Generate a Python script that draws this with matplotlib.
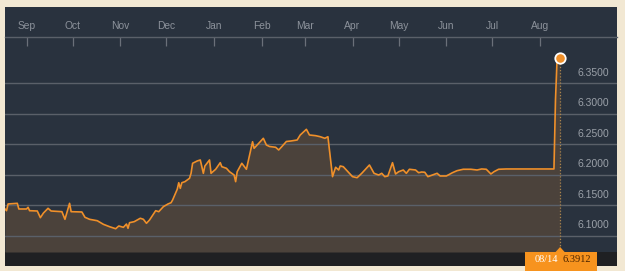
import matplotlib
matplotlib.use('Agg')
import matplotlib.pyplot as plt
import matplotlib.dates as mdates
from matplotlib.patches import Rectangle, Polygon
import pandas as pd

# USD/CNY, un año hasta el 14/08/2015
fechas = [
    '2014-08-18', '2014-08-19', '2014-08-20', '2014-08-26', '2014-08-27', '2014-09-01',
    '2014-09-02', '2014-09-03', '2014-09-08', '2014-09-10', '2014-09-12', '2014-09-15',
    '2014-09-17', '2014-09-24', '2014-09-26', '2014-09-29', '2014-09-30', '2014-10-07',
    '2014-10-09', '2014-10-12', '2014-10-17', '2014-10-21', '2014-10-25', '2014-10-29',
    '2014-10-31', '2014-11-03', '2014-11-05', '2014-11-06', '2014-11-07', '2014-11-10',
    '2014-11-14', '2014-11-16', '2014-11-18', '2014-11-20', '2014-11-24', '2014-11-26',
    '2014-11-29', '2014-12-02', '2014-12-04', '2014-12-05', '2014-12-08', '2014-12-09',
    '2014-12-10', '2014-12-11', '2014-12-13', '2014-12-16', '2014-12-17', '2014-12-18',
    '2014-12-21', '2014-12-23', '2014-12-25', '2014-12-26', '2014-12-29', '2014-12-30',
    '2015-01-02', '2015-01-05', '2015-01-06', '2015-01-09', '2015-01-11', '2015-01-14',
    '2015-01-15', '2015-01-16', '2015-01-19', '2015-01-22', '2015-01-26', '2015-01-27',
    '2015-01-30', '2015-02-02', '2015-02-04', '2015-02-06', '2015-02-10', '2015-02-12',
    '2015-02-14', '2015-02-17', '2015-02-20', '2015-02-24', '2015-02-26', '2015-03-01',
    '2015-03-02', '2015-03-04', '2015-03-08', '2015-03-11', '2015-03-14', '2015-03-16',
    '2015-03-17', '2015-03-19', '2015-03-21', '2015-03-23', '2015-03-24', '2015-03-26',
    '2015-03-28', '2015-04-01', '2015-04-04', '2015-04-07', '2015-04-12', '2015-04-15',
    '2015-04-18', '2015-04-20', '2015-04-22', '2015-04-24', '2015-04-27', '2015-04-29',
    '2015-05-01', '2015-05-04', '2015-05-06', '2015-05-08', '2015-05-12', '2015-05-14',
    '2015-05-16', '2015-05-18', '2015-05-20', '2015-05-23', '2015-05-26', '2015-05-28',
    '2015-06-01', '2015-06-05', '2015-06-08', '2015-06-12', '2015-06-17', '2015-06-21',
    '2015-06-24', '2015-06-27', '2015-06-30', '2015-07-02', '2015-07-05', '2015-07-10',
    '2015-07-28', '2015-08-10', '2015-08-11', '2015-08-12', '2015-08-13', '2015-08-14',
]
valores = [
    6.1442, 6.1414, 6.1524, 6.1535, 6.1442, 6.1442,
    6.1470, 6.1414, 6.1409, 6.1300, 6.1376, 6.1453,
    6.1409, 6.1398, 6.1273, 6.1535, 6.1398, 6.1393,
    6.1306, 6.1273, 6.1250, 6.1191, 6.1152, 6.1119,
    6.1164, 6.1142, 6.1196, 6.1126, 6.1218, 6.1234,
    6.1290, 6.1273, 6.1208, 6.1262, 6.1414, 6.1398,
    6.1480, 6.1524, 6.1545, 6.1589, 6.1764, 6.1872,
    6.1780, 6.1872, 6.1889, 6.1944, 6.2026, 6.2190,
    6.2228, 6.2244, 6.2026, 6.2146, 6.2244, 6.2026,
    6.2092, 6.2200, 6.2134, 6.2108, 6.2052, 6.1998,
    6.1889, 6.2052, 6.2190, 6.2092, 6.2543, 6.2435,
    6.2517, 6.2599, 6.2489, 6.2465, 6.2452, 6.2408,
    6.2462, 6.2547, 6.2555, 6.2571, 6.2653, 6.2723,
    6.2746, 6.2653, 6.2642, 6.2625, 6.2599, 6.2625,
    6.2408, 6.1971, 6.2125, 6.2080, 6.2146, 6.2134,
    6.2080, 6.1971, 6.1954, 6.2026, 6.2162, 6.2026,
    6.1998, 6.2026, 6.1971, 6.1982, 6.2200, 6.2015,
    6.2052, 6.2080, 6.2026, 6.2092, 6.2080, 6.2036,
    6.2047, 6.2043, 6.1971, 6.1998, 6.2026, 6.1982,
    6.1982, 6.2036, 6.2069, 6.2092, 6.2092, 6.2080,
    6.2097, 6.2092, 6.2015, 6.2052, 6.2092, 6.2097,
    6.2097, 6.2097, 6.3231, 6.3870, 6.3966, 6.3912,
]

meses = ['2014-09-01', '2014-10-01', '2014-11-01', '2014-12-01', '2015-01-01', '2015-02-01',
         '2015-03-01', '2015-04-01', '2015-05-01', '2015-06-01', '2015-07-01', '2015-08-01']
etiquetas_meses = ['Sep', 'Oct', 'Nov', 'Dec', 'Jan', 'Feb', 'Mar', 'Apr', 'May', 'Jun', 'Jul', 'Aug']
niveles = [6.10, 6.15, 6.20, 6.25, 6.30, 6.35]
etiquetas_niveles = ['6.1000', '6.1500', '6.2000', '6.2500', '6.3000', '6.3500']
etiqueta_fecha = '08/14'
etiqueta_valor = '6.3912'

W, H = 625, 271
fondo = '#f2e8d3'
panel = '#29323e'
relleno = '#4b423b'
naranja = '#f0902a'
gris = '#5a6069'

t = pd.to_datetime(fechas)
x = mdates.date2num(t)

fig = plt.figure(figsize=(W / 100, H / 100), dpi=100, facecolor=fondo)

# panel oscuro y franja inferior
fig.patches.append(Rectangle((5 / W, 1 - 266 / H), 612 / W, 259 / H,
                             transform=fig.transFigure, facecolor=panel, zorder=-2))
fig.patches.append(Rectangle((5 / W, 1 - 266 / H), 612 / W, 14 / H,
                             transform=fig.transFigure, facecolor='#1f2023', zorder=-1))

ax = fig.add_axes([5 / W, 1 - 252 / H, 612 / W, 215 / H])
ax.set_facecolor('none')
ax.set_xlim(mdates.date2num(pd.Timestamp('2014-08-18')), mdates.date2num(pd.Timestamp('2015-09-20')))
ax.set_ylim(6.0738, 6.4257)

ax.fill_between(x, valores, 6.0738, color=relleno, lw=0, zorder=1)
for n in niveles:
    ax.axhline(n, color=gris, lw=1.0, zorder=2)
ax.plot(x, valores, color=naranja, lw=1.2, zorder=3)

# linea punteada y marcador del ultimo valor
ax.axvline(x[-1], ymin=0, ymax=(valores[-1] - 6.0738) / (6.4257 - 6.0738),
           color='#a8844e', lw=0.9, ls=(0, (1, 1.5)), zorder=2)
ax.plot(x[-1], valores[-1], 'o', ms=7.5, color=naranja, mec='white', mew=1.3, zorder=4)

# eje x arriba
for s in ['left', 'right', 'bottom']:
    ax.spines[s].set_visible(False)
ax.spines['top'].set_color(gris)
ax.spines['top'].set_linewidth(1.0)
ax.xaxis.tick_top()
ax.set_xticks(mdates.date2num(pd.to_datetime(meses)))
ax.set_xticklabels(etiquetas_meses)
ax.tick_params(axis='x', direction='in', length=6.5, width=0.9, color='#6a7079',
               labelsize=7.4, labelcolor='#8c929b', pad=4)
for lab in ax.get_xticklabels():
    lab.set_family('Liberation Sans')
ax.set_yticks([])

# etiquetas del eje y, sobre cada linea
for n, e in zip(niveles, etiquetas_niveles):
    ax.annotate(e, xy=(0.9355, n), xycoords=('axes fraction', 'data'),
                xytext=(0, 4), textcoords='offset points', ha='left', va='bottom',
                fontsize=7.5, color='#9aa0a8', family='Liberation Sans')

# etiqueta naranja abajo
fig.canvas.draw()
xp = ax.transData.transform((x[-1], 0))[0]
y0 = 1 - 252 / H
fig.patches.append(Rectangle(((xp - 35) / W, 1 - 271 / H), 72 / W, 19 / H,
                             transform=fig.transFigure, facecolor='#f7931e', lw=0, zorder=5))
fig.patches.append(Polygon([((xp - 5) / W, y0 - 0.5 / H), ((xp + 5) / W, y0 - 0.5 / H),
                            (xp / W, y0 + 5 / H)], closed=True,
                           transform=fig.transFigure, facecolor='#f7931e', lw=0, zorder=5))
fig.text((xp - 14) / W, 1 - 260 / H, etiqueta_fecha, ha='center', va='center',
         fontsize=7.5, color='white', family='Liberation Serif', zorder=6)
fig.text((xp + 17) / W, 1 - 260 / H, etiqueta_valor, ha='center', va='center',
         fontsize=7.5, color='#4a2300', family='Liberation Serif', zorder=6)

fig.savefig('out.png', dpi=100, facecolor=fondo)
